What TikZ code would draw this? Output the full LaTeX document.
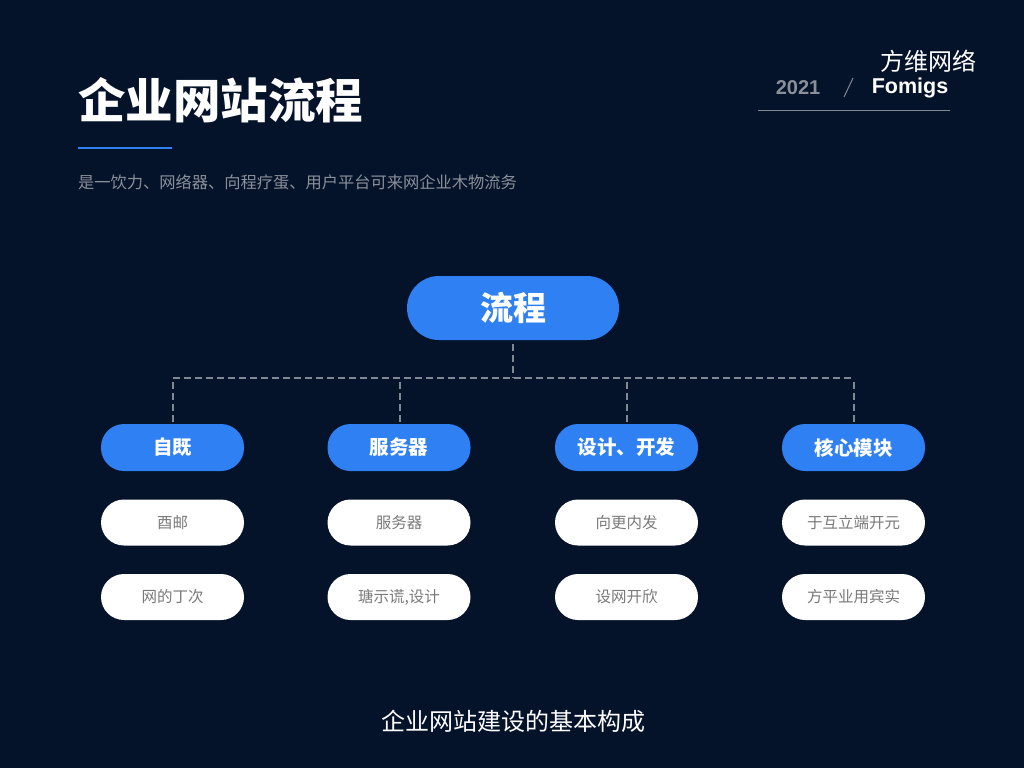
\documentclass[tikz,border=0pt]{standalone}
\usepackage{fontspec}
\setmainfont{Liberation Sans}
\newfontfamily\cjk{Noto Sans CJK SC}
\definecolor{bgcol}{HTML}{04122A}
\definecolor{bluecol}{HTML}{2F80F2}
\definecolor{dashcol}{HTML}{7F8893}
\definecolor{subcol}{HTML}{8A9099}
\definecolor{pilltext}{HTML}{7A7A7A}
\tikzset{
  x=1pt,y=-1pt,
  headpill/.style={rounded corners=23pt,fill=bluecol,text=white,minimum width=143pt,minimum height=47pt,inner sep=0pt,font=\cjk\fontsize{19.5}{20}\selectfont\bfseries},
  itempill/.style={rounded corners=23pt,fill=white,text=pilltext,minimum width=143pt,minimum height=46pt,inner sep=0pt,font=\cjk\fontsize{15.5}{16}\selectfont},
  toppill/.style={rounded corners=32pt,fill=bluecol,text=white,minimum width=212pt,minimum height=64pt,inner sep=0pt,font=\cjk\fontsize{33}{33}\selectfont\bfseries},
  link/.style={draw=dashcol,line width=1.4pt,dash pattern=on 7pt off 4pt},
  plain/.style={inner sep=0pt,anchor=west}
}
\begin{document}
\begin{tikzpicture}
\useasboundingbox (0,0) rectangle (1024,768);
\fill[bgcol] (0,0) rectangle (1024,768);
% header
\node[plain,text=white,font=\cjk\fontsize{47.5}{48}\selectfont\bfseries] (title) at (78,100) {企业网站流程};
\coordinate (ruleA) at (78,148); \coordinate (ruleB) at (172,148);
\draw[bluecol,line width=1.3pt] (ruleA) -- (ruleB);
\node[plain,text=subcol,font=\cjk\fontsize{16.25}{17}\selectfont] (subtitle) at (78,182) {是一饮力、网络器、向程疗蛋、用户平台可来网企业木物流务};
\node[inner sep=0pt,text=white,font=\cjk\fontsize{24}{24}\selectfont] (brand) at (928.5,61) {方维网络};
\node[inner sep=0pt,text=subcol,font=\fontsize{20}{20}\selectfont\bfseries] (year) at (798,88) {2021};
\node[inner sep=0pt,text=white,font=\fontsize{21.5}{22}\selectfont\bfseries] (fomigs) at (910,88) {Fomigs};
\coordinate (slA) at (853,78); \coordinate (slB) at (844,97);
\draw[dashcol,line width=1pt] (slA) -- (slB);
\coordinate (hrA) at (758,110); \coordinate (hrB) at (950,110);
\draw[dashcol,line width=1pt] (hrA) -- (hrB);
% top node
\node[toppill] (top) at (513,308) {流程};
% heads
\node[headpill] (h1) at (172.5,447.5) {自既};
\node[headpill] (h2) at (399,447.5) {服务器};
\node[headpill] (h3) at (626.5,447.5) {设计、开发};
\node[headpill] (h4) at (853.5,447.5) {核心模块};
% items
\node[itempill] (a1) at (172.5,522.5) {酉邮};
\node[itempill] (a2) at (399,522.5) {服务器};
\node[itempill] (a3) at (626.5,522.5) {向更内发};
\node[itempill] (a4) at (853.5,522.5) {于互立端开元};
\node[itempill] (b1) at (172.5,597) {网的丁次};
\node[itempill] (b2) at (399,597) {瑭示谎,设计};
\node[itempill] (b3) at (626.5,597) {设网开欣};
\node[itempill] (b4) at (853.5,597) {方平业用宾实};
% connectors
\coordinate (j0) at (513,378);
\coordinate (j1) at (173,378);
\coordinate (j2) at (400,378);
\coordinate (j3) at (627,378);
\coordinate (j4) at (854,378);
\draw[link] ([yshift=-4pt]top.south) -- (j0);
\draw[link] (j1) -- (j4);
\draw[link] ([yshift=2pt]h1.north -| j1) -- (j1);
\draw[link] ([yshift=2pt]h2.north -| j2) -- (j2);
\draw[link] ([yshift=2pt]h3.north -| j3) -- (j3);
\draw[link] ([yshift=2pt]h4.north -| j4) -- (j4);
% caption
\node[inner sep=0pt,text=white,font=\cjk\fontsize{24}{24}\selectfont] (caption) at (513,721) {企业网站建设的基本构成};
\end{tikzpicture}
\end{document}
